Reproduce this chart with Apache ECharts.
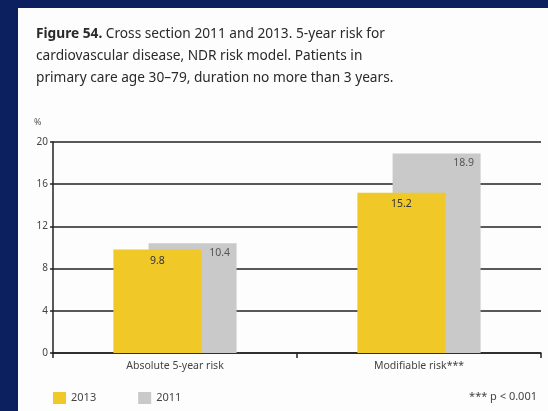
<!DOCTYPE html>
<html>
<head>
<meta charset="utf-8">
<script src="https://cdn.jsdelivr.net/npm/echarts@6/dist/echarts.min.js"></script>
<style>
html,body{margin:0;padding:0;width:548px;height:411px;background:#0c2060;overflow:hidden;}
#panel{position:absolute;left:18px;top:8px;width:530px;height:403px;background:#fdfdfd;}
#chart{position:absolute;left:0;top:0;width:548px;height:411px;}
</style>
</head>
<body>
<div id="panel"></div>
<div id="chart"></div>
<script>
const categories = ['Absolute 5-year risk', 'Modifiable risk***'];
const seriesNames = ['2013', '2011'];
const values2013 = [9.8, 15.2];
const values2011 = [10.4, 18.9];
const yTicks = [0, 4, 8, 12, 16, 20];

const chart = echarts.init(document.getElementById('chart'), null, {renderer: 'canvas'});
const font = '"Noto Sans", "Open Sans", sans-serif';
chart.setOption({
  backgroundColor: 'transparent',
  animation: false,
  textStyle: {fontFamily: font},
  title: {
    left: 31, top: 18,
    text: '{b|Figure 54.} Cross section 2011 and 2013. 5-year risk for\ncardiovascular disease, NDR risk model. Patients in\nprimary care age 30\u201379, duration no more than 3 years.',
    textStyle: {
      fontFamily: font, fontSize: 13.7, fontWeight: 'normal', color: '#2a2a2a', lineHeight: 22,
      rich: {b: {fontFamily: font, fontSize: 13.7, fontWeight: 'bold', color: '#2a2a2a', lineHeight: 22}}
    }
  },
  graphic: [
    {type: 'text', left: 34, top: 118, style: {text: '%', fontSize: 9, fill: '#555', fontFamily: font}},
    {type: 'text', right: 11, top: 391, style: {text: '*** p < 0.001', fontSize: 11, fill: '#444', fontFamily: font}}
  ],
  legend: {
    left: 48, top: 387, itemWidth: 13, itemHeight: 12, itemGap: 42,
    icon: 'rect',
    data: seriesNames,
    textStyle: {fontSize: 11, color: '#444', fontFamily: font}
  },
  grid: {left: 53, right: 7, top: 142, bottom: 58, containLabel: false},
  xAxis: {
    type: 'category', data: categories,
    axisLine: {lineStyle: {color: '#222', width: 1.5}},
    axisTick: {show: true, length: 5, lineStyle: {color: '#222', width: 1.5}},
    axisLabel: {fontSize: 10.5, color: '#444', margin: 8, fontFamily: font}
  },
  yAxis: {
    type: 'value', min: yTicks[0], max: yTicks[yTicks.length - 1], interval: 4,
    axisLine: {show: true, lineStyle: {color: '#222', width: 1.5}},
    axisTick: {show: true, length: 3, lineStyle: {color: '#222', width: 1.5}},
    axisLabel: {fontSize: 10, color: '#444', margin: 5, fontFamily: font},
    splitLine: {show: true, lineStyle: {color: '#222', width: 1.5}}
  },
  series: [
    {
      name: seriesNames[0], type: 'bar', data: values2013, z: 4,
      barWidth: 88, barGap: '-60%',
      itemStyle: {color: '#f0c928'},
      label: {show: true, position: 'insideTop', distance: 6, fontSize: 10.5, color: '#333', fontFamily: font}
    },
    {
      name: seriesNames[1], type: 'bar', data: values2011, z: 3,
      barWidth: 88, barGap: '-60%',
      itemStyle: {color: '#c9c9c9'},
      label: {show: true, position: 'insideTop', distance: 4, offset: [27, 0], fontSize: 10.5, color: '#555', fontFamily: font}
    }
  ]
});
</script>
</body>
</html>
